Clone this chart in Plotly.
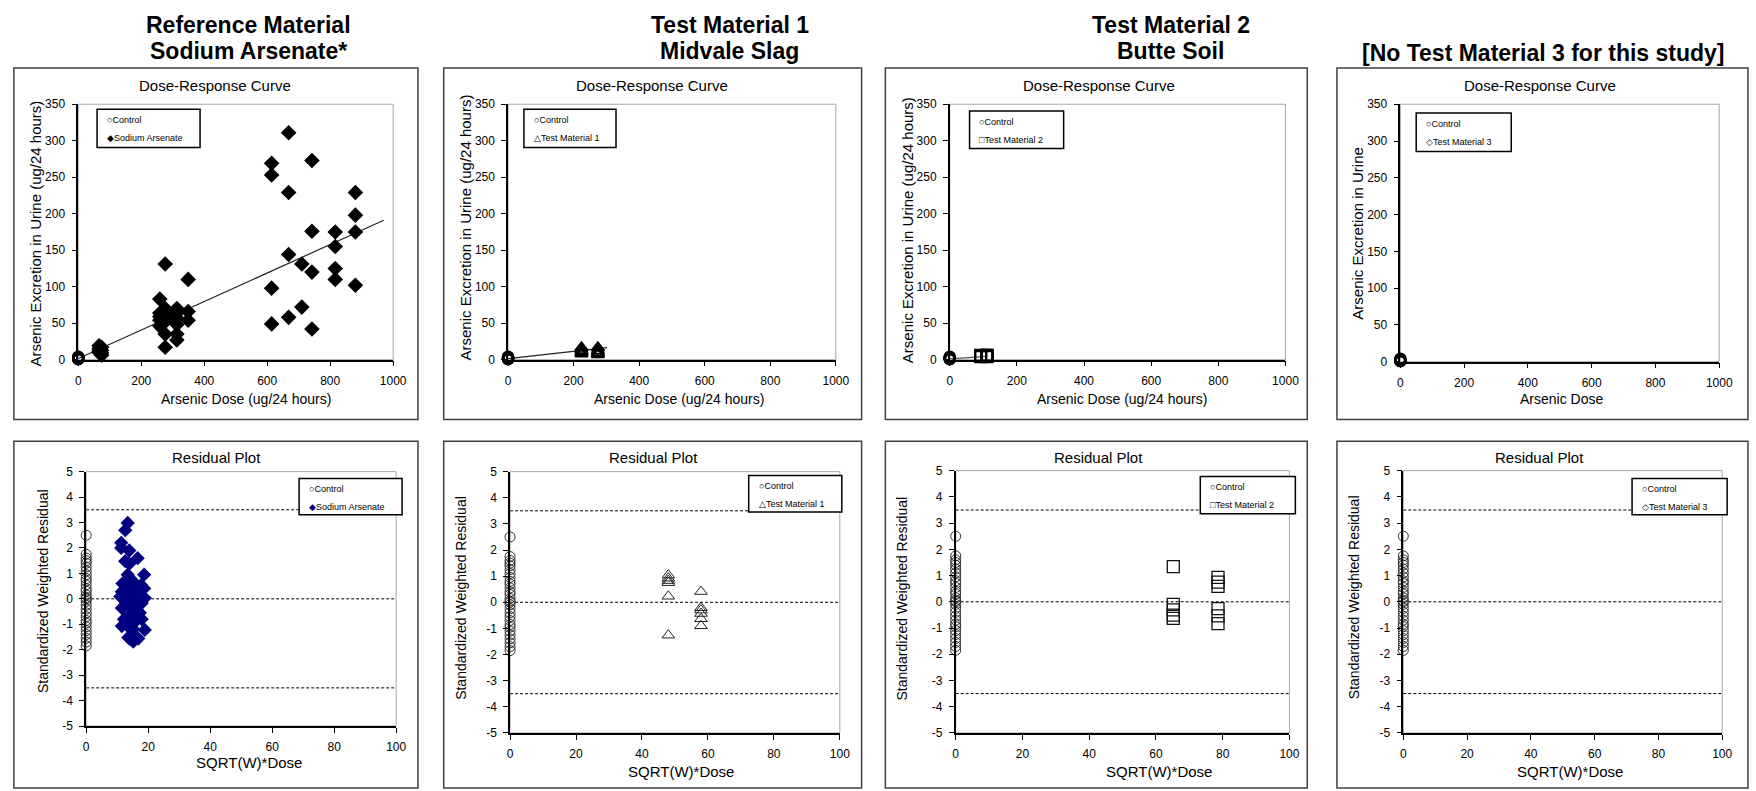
import plotly.graph_objects as go

# ---------------------------------------------------------------- data ----
# Control group (dose 0): urinary arsenic and standardized weighted residuals
control_dose = [0, 0, 0, 0, 0, 0, 0]
control_urine = [0.5, 1.0, 1.5, 2.0, 2.5, 3.0, 4.0]
control_resid_x = [0] * 29
control_resid = [2.5, 1.75, 1.6, 1.5, 1.4, 1.25, 1.1, 0.95, 0.8, 0.7, 0.55, 0.4,
                 0.3, 0.15, 0.05, 0.0, -0.1, -0.25, -0.4, -0.55, -0.7, -0.85,
                 -0.95, -1.1, -1.25, -1.4, -1.55, -1.7, -1.85]

# Reference material: sodium arsenate
ref_dose = ([66] * 4 + [74] * 4 + [259] * 5 + [276] * 7 + [313] * 7 + [349] * 3 +
            [614] * 4 + [668] * 4 + [710] * 2 + [742] * 4 + [816] * 4 + [880] * 4)
ref_urine = [19, 15, 12, 10, 17, 13, 9, 6,
             83, 64, 59, 54, 46,
             131, 70, 60, 57, 52, 35, 17,
             70, 66, 64, 57, 48, 35, 27,
             110, 66, 54,
             269, 253, 98, 49,
             311, 229, 144, 58,
             131, 72,
             273, 176, 120, 42,
             175, 155, 125, 110,
             229, 198, 175, 102]
ref_fit_x = [0, 970]
ref_fit_y = [1.5, 191]
ref_resid_x = [13.4, 12.6, 11.3, 11.3, 13.9, 12.6, 13.9, 16.6, 13.4, 18.7, 11.7, 15.2,
               17.7, 18.7, 11.5, 13.6, 15.8, 17.1, 18.9, 12.6, 15.2, 11.5, 14.1, 16.3,
               17.3, 13.6, 16.3, 15.5, 11.5, 13.4, 15.2, 18.9, 13.6, 16.8, 15.2, 14.2,
               12.8, 14.6, 12.2, 17.9, 15.8, 14.2, 11.0, 17.9, 14.9, 16.0]
ref_resid = [2.98, 2.7, 2.2, 2.0, 1.9, 1.48, 1.38, 1.6, 0.95, 0.95, 0.6, 0.67,
             0.54, 0.41, 0.28, 0.35, 0.22, 0.09, 0.03, 0.03, -0.04, -0.36, -0.3, -0.42,
             -0.55, -0.68, -0.75, -0.94, -1.07, -1.07, -1.2, -1.22, -1.52, -1.56, -1.68, -1.58,
             -0.1, -0.55, -0.8, -0.17, 0.48, 0.8, 0.09, -0.8, -1.39, 0.1]

# Test material 1: Midvale slag
tm1_dose = [224] * 4 + [274] * 4
tm1_urine = [16, 12.5, 10, 8, 16, 12, 9, 7]
tm1_fit_x = [0, 302]
tm1_fit_y = [1.3, 16.5]
tm1_resid_x = [48] * 6 + [57.9] * 6
tm1_resid = [1.04, 0.92, 0.83, 0.75, 0.23, -1.26, 0.41, -0.21, -0.3, -0.43, -0.63, -0.9]

# Test material 2: Butte soil
tm2_dose = [92] * 4 + [111] * 4
tm2_urine = [4.0, 5.0, 5.5, 6.0, 4.0, 5.0, 5.5, 6.5]
tm2_fit_x = [0, 111]
tm2_fit_y = [1.0, 4.5]
tm2_resid_x = [65.2] * 5 + [78.6] * 6
tm2_resid = [1.34, -0.1, -0.31, -0.51, -0.63, 0.93, 0.75, 0.59, -0.26, -0.54, -0.83]

# Outlier limits on the residual plots
resid_limits = [3.5, 0, -3.5]

# Axis ticks
dose_ticks = [0, 200, 400, 600, 800, 1000]
urine_ticks = [0, 50, 100, 150, 200, 250, 300, 350]
sqrt_ticks = [0, 20, 40, 60, 80, 100]
resid_ticks = [-5, -4, -3, -2, -1, 0, 1, 2, 3, 4, 5]

# ------------------------------------------------------------- layout ----
W, H = 1756, 791
FONT = "Liberation Sans, Arial, sans-serif"


def fx(p):
    return p / W


def fy(p):
    return 1 - p / H


# plot areas in pixels: (left, right, top, bottom)
plot_boxes = {
    1: (76, 394, 99, 359), 2: (510, 841, 99, 359),
    3: (956, 1295, 99, 359), 4: (1411, 1733, 99, 361),
    5: (84, 397, 473, 732), 6: (512, 845, 473, 739),
    7: (962, 1299, 472, 739), 8: (1414, 1736, 472, 739),
}
# chart frames in pixels
frames = [(11, 419, 62, 420), (445, 867, 62, 420), (891, 1317, 62, 420), (1347, 1762, 62, 420),
          (11, 419, 442, 795), (445, 867, 442, 795), (891, 1317, 442, 795), (1347, 1762, 442, 795)]


def ref(i):
    return "" if i == 1 else str(i)


fig = go.Figure()

axis_common = dict(showline=True, linecolor="black", linewidth=1.5, ticks="outside",
                   ticklen=5, tickwidth=1, tickcolor="black", showgrid=False,
                   zeroline=False, fixedrange=True, ticklabelstandoff=4,
                   tickfont=dict(family=FONT, size=12, color="black"))

for i, (l, r, t, b) in plot_boxes.items():
    top = i <= 4
    xa = dict(axis_common, domain=[fx(l), fx(r)], anchor="y" + ref(i))
    ya = dict(axis_common, domain=[fy(b), fy(t)], anchor="x" + ref(i))
    if top:
        xa.update(range=[0, 1000], tickvals=dose_ticks, ticktext=[str(v) for v in dose_ticks])
        ya.update(range=[0, 350], tickvals=urine_ticks, ticktext=[str(v) for v in urine_ticks])
    else:
        xa.update(range=[0, 100], tickvals=sqrt_ticks, ticktext=[str(v) for v in sqrt_ticks])
        ya.update(range=[-5, 5], tickvals=resid_ticks, ticktext=[str(v) for v in resid_ticks])
    fig.update_layout(**{"xaxis" + ref(i): xa, "yaxis" + ref(i): ya})


def add_pts(i, x, y, marker):
    fig.add_trace(go.Scatter(x=x, y=y, mode="markers", marker=marker, cliponaxis=False,
                             showlegend=False, xaxis="x" + ref(i), yaxis="y" + ref(i),
                             hoverinfo="x+y"))


def add_fit(i, x, y, color="#222222"):
    fig.add_trace(go.Scatter(x=x, y=y, mode="lines", line=dict(color=color, width=1.2),
                             showlegend=False, xaxis="x" + ref(i), yaxis="y" + ref(i),
                             hoverinfo="skip"))


ctrl_top = dict(symbol="circle-open", size=10, color="black", line=dict(width=2.5))
ctrl_res = dict(symbol="circle-open", size=10, color="#333333", line=dict(width=1))

# Dose-response curves
add_fit(1, ref_fit_x, ref_fit_y)
add_pts(1, ref_dose, ref_urine, dict(symbol="diamond", size=12, color="black"))
add_pts(1, control_dose, control_urine, ctrl_top)

add_fit(2, tm1_fit_x, tm1_fit_y)
add_pts(2, tm1_dose, tm1_urine, dict(symbol="triangle-up-open", size=11, color="black",
                                     line=dict(width=2)))
add_pts(2, control_dose, control_urine, ctrl_top)

add_fit(3, tm2_fit_x, tm2_fit_y, color="#555555")
add_pts(3, tm2_dose, tm2_urine, dict(symbol="square-open", size=11, color="black",
                                     line=dict(width=2)))
add_pts(3, control_dose, control_urine, ctrl_top)

add_pts(4, control_dose, control_urine, ctrl_top)

# Residual plots
for i in (5, 6, 7, 8):
    for lim in resid_limits:
        fig.add_trace(go.Scatter(x=[0, 100], y=[lim, lim], mode="lines",
                                 line=dict(color="black", width=1, dash="3px,2px"),
                                 showlegend=False, xaxis="x" + ref(i), yaxis="y" + ref(i),
                                 hoverinfo="skip"))
    add_pts(i, control_resid_x, control_resid, ctrl_res)

add_pts(5, ref_resid_x, ref_resid, dict(symbol="diamond", size=11, color="#000080"))
add_pts(6, tm1_resid_x, tm1_resid, dict(symbol="triangle-up-open", size=11, color="#222222",
                                        line=dict(width=1)))
add_pts(7, tm2_resid_x, tm2_resid, dict(symbol="square-open", size=12, color="#111111",
                                        line=dict(width=1.3)))

shapes = []
# chart frames
for (l, r, t, b) in frames:
    shapes.append(dict(type="rect", xref="paper", yref="paper", x0=fx(l), x1=fx(r),
                       y0=fy(b), y1=fy(t), line=dict(color="#404040", width=1.5),
                       layer="below"))
# light plot-area borders
for i in plot_boxes:
    shapes.append(dict(type="rect", xref="x" + ref(i) + " domain", yref="y" + ref(i) + " domain",
                       x0=0, x1=1, y0=0, y1=1, line=dict(color="#a8a8a8", width=1),
                       layer="below"))

# legend boxes: (left, right, top, bottom), entries
legends = [
    ((95, 199, 104, 143), "○Control", "◆Sodium Arsenate"),
    ((526, 619, 104, 143), "○Control", "△Test Material 1"),
    ((976, 1071, 106, 144), "○Control", "□Test Material 2"),
    ((1427, 1523, 108, 147), "○Control", "◇Test Material 3"),
    ((299, 403, 480, 517), "○Control", "<span style='color:#000080'>◆</span>Sodium Arsenate"),
    ((753, 847, 477, 514), "○Control", "△Test Material 1"),
    ((1209, 1305, 478, 516), "○Control", "□Test Material 2"),
    ((1645, 1741, 480, 517), "○Control", "◇Test Material 3"),
]
annotations = []
for (l, r, t, b), e1, e2 in legends:
    shapes.append(dict(type="rect", xref="paper", yref="paper", x0=fx(l), x1=fx(r),
                       y0=fy(b), y1=fy(t), line=dict(color="black", width=1.5),
                       fillcolor="white"))
    for txt, dy in ((e1, 11), (e2, 29)):
        annotations.append(dict(text=txt, x=fx(l + 8), y=fy(t + dy), xref="paper", yref="paper",
                                xanchor="left", yanchor="middle", showarrow=False,
                                font=dict(family=FONT, size=9, color="black")))


def label(text, x, y, size=15, angle=0, bold=False):
    if bold:
        text = "<b>" + text + "</b>"
    annotations.append(dict(text=text, x=fx(x), y=fy(y), xref="paper", yref="paper",
                            xanchor="center", yanchor="middle", showarrow=False,
                            textangle=angle, font=dict(family=FONT, size=size, color="black")))


# section headers
label("Reference Material", 248, 18, 23, bold=True)
label("Sodium Arsenate*", 248, 45, 23, bold=True)
label("Test Material 1", 734, 18, 23, bold=True)
label("Midvale Slag", 734, 45, 23, bold=True)
label("Test Material 2", 1179, 18, 23, bold=True)
label("Butte Soil", 1179, 45, 23, bold=True)
label("[No Test Material 3 for this study]", 1556, 47, 23, bold=True)

# chart titles
for x in (214, 655, 1107, 1552):
    label("Dose-Response Curve", x, 80, 15)
for x in (216, 657, 1106, 1552):
    label("Residual Plot", x, 459, 15)

# axis titles
for x, t in ((245, "Arsenic Dose (ug/24 hours)"), (683, "Arsenic Dose (ug/24 hours)"),
             (1130, "Arsenic Dose (ug/24 hours)"), (1574, "Arsenic Dose")):
    label(t, x, 399, 14)
for x, y in ((248, 769), (685, 778), (1167, 778), (1582, 778)):
    label("SQRT(W)*Dose", x, y, 15)
for (x, y), t in (((33, 231), "Arsenic Excretion in Urine (ug/24 hours)"),
                  ((467, 224), "Arsenic Excretion in Urine (ug/24 hours)"),
                  ((914, 227), "Arsenic Excretion in Urine (ug/24 hours)"),
                  ((1368, 230), "Arsenic Excretion in Urine")):
    label(t, x, y, 15, angle=-90)
for x, y in ((41, 595), (463, 602), (908, 602), (1365, 601)):
    label("Standardized Weighted Residual", x, y, 14, angle=-90)

fig.update_layout(width=W, height=H, margin=dict(l=0, r=0, t=0, b=0),
                  paper_bgcolor="white", plot_bgcolor="white",
                  font=dict(family=FONT, color="black"),
                  shapes=shapes, annotations=annotations, showlegend=False)

fig.write_html("out.html")
